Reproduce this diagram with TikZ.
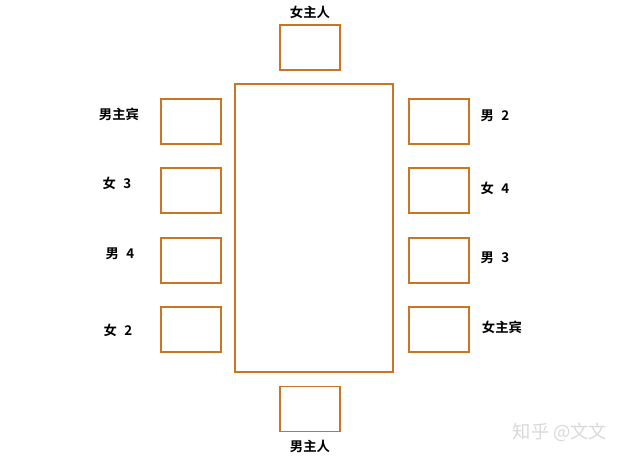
\documentclass[tikz,border=0pt]{standalone}
\usepackage{fontspec}
\newfontfamily\cjk{Noto Sans CJK SC}
\newfontfamily\cjkb{Noto Sans CJK SC Bold}
\usetikzlibrary{positioning}
\definecolor{seatorange}{RGB}{200,118,38}
\newcommand{\gap}{\hspace{0.55em}}
\tikzset{
  seat/.style={rectangle, minimum width=1.5cm, minimum height=1.125cm, inner sep=0pt, draw=seatorange, line width=1.4pt},
  tbl/.style={rectangle, minimum width=3.95cm, minimum height=7.2cm, inner sep=0pt, draw=seatorange, line width=1.4pt},
  nm/.style={font=\cjkb\fontsize{9.5}{11}\selectfont, inner sep=0pt},
  wm/.style={font=\cjk\fontsize{13}{15}\selectfont, text=black!15, inner sep=0pt}
}
\begin{document}
\begin{tikzpicture}[x=0.025cm, y=-0.025cm]
	\useasboundingbox[fill=white] (0,0) rectangle (626,458);
	% table
	\node[tbl] (table) at (314,228) {};
	% head seats
	\node[seat] (hostess) at (310,47.5) {};
	\node[seat] (host) at (310,409) {};
	\node[nm] (hostessl) at (310,12) {女主人};
	\node[nm] (hostl) at (310,446) {男主人};
	% left side
	\node[seat] (l1) at (191,121.5) {};
	\node[seat] (l2) at (191,190.5) {};
	\node[seat] (l3) at (191,260.5) {};
	\node[seat] (l4) at (191,329.5) {};
	\node[nm] (l1l) at (119,114) {男主宾};
	\node[nm] (l2l) at (117,183) {女\gap 3};
	\node[nm] (l3l) at (120,254) {男\gap 4};
	\node[nm] (l4l) at (118,330) {女\gap 2};
	% right side
	\node[seat] (r1) at (439,121.5) {};
	\node[seat] (r2) at (439,190.5) {};
	\node[seat] (r3) at (439,260.5) {};
	\node[seat] (r4) at (439,329.5) {};
	\node[nm] (r1l) at (495,116) {男\gap 2};
	\node[nm] (r2l) at (495,188) {女\gap 4};
	\node[nm] (r3l) at (495,258) {男\gap 3};
	\node[nm] (r4l) at (502,327) {女主宾};
	% watermark
	\node[wm] (mark) at (560,432) {知乎 @文文};
\end{tikzpicture}
\end{document}
